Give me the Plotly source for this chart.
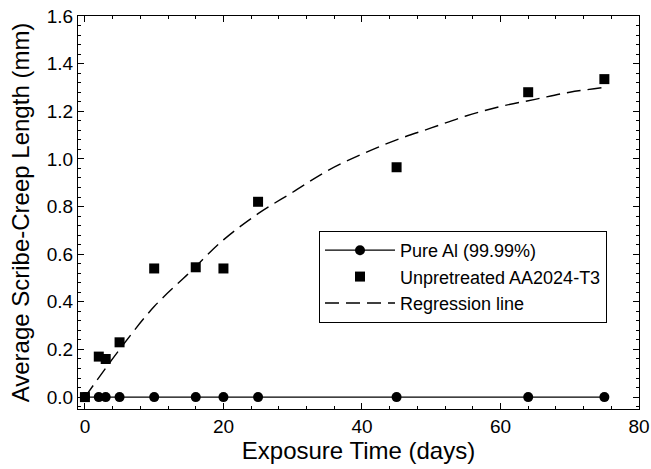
import plotly.graph_objects as go

# Data
pure_x = [0, 2, 3, 5, 10, 16, 20, 25, 45, 64, 75]
pure_y = [0, 0, 0, 0, 0, 0, 0, 0, 0, 0, 0]

aa_x = [0, 2, 3, 5, 10, 16, 20, 25, 45, 64, 75]
aa_y = [0.0, 0.17, 0.16, 0.23, 0.54, 0.545, 0.54, 0.82, 0.965, 1.28, 1.335]

reg_x = [0, 5, 10, 15, 20, 25, 30, 35, 40, 45, 50, 55, 60, 65, 70, 75]
reg_y = [0.0, 0.20, 0.38, 0.52, 0.66, 0.77, 0.86, 0.95, 1.02, 1.08, 1.13, 1.18, 1.22, 1.25, 1.28, 1.30]

FONT = "Liberation Sans, Arial, Helvetica, sans-serif"

fig = go.Figure()
fig.add_trace(go.Scatter(x=pure_x, y=pure_y, mode="lines+markers", name="Pure Al (99.99%)",
                         line=dict(color="black", width=1.4),
                         marker=dict(symbol="circle", size=10, color="black")))
fig.add_trace(go.Scatter(x=aa_x, y=aa_y, mode="markers", name="Unpretreated AA2024-T3",
                         marker=dict(symbol="square", size=10, color="black")))
fig.add_trace(go.Scatter(x=reg_x, y=reg_y, mode="lines", name="Regression line",
                         line=dict(color="black", width=1.4, dash="14px,7px", shape="spline")))

axis_common = dict(showgrid=False, zeroline=False, showline=True, linecolor="black", linewidth=1,
                   mirror="allticks", ticks="inside", ticklen=6, tickcolor="black", tickwidth=1,
                   automargin=False,
                   tickfont=dict(size=19, color="black", family=FONT))

fig.update_xaxes(range=[-1, 80], tick0=0, dtick=20,
                 minor=dict(ticks="inside", ticklen=3, dtick=4, tick0=0, tickcolor="black"),
                 title=dict(text="Exposure Time (days)", font=dict(size=24, color="black", family=FONT), standoff=4),
                 **axis_common)
fig.update_yaxes(range=[-0.05, 1.6], tick0=0, dtick=0.2, tickformat=".1f",
                 minor=dict(ticks="inside", ticklen=3, dtick=0.04, tick0=0, tickcolor="black"),
                 title=dict(text="Average Scribe-Creep Length (mm)", font=dict(size=24, color="black", family=FONT), standoff=10),
                 **axis_common)

fig.update_layout(
    width=651, height=469,
    margin=dict(l=78, r=12, t=16, b=60, autoexpand=False),
    paper_bgcolor="white", plot_bgcolor="white",
    font=dict(family=FONT, color="black"),
    showlegend=True,
    legend=dict(x=0.4296, y=0.453, xanchor="left", yanchor="top",
                bgcolor="white", bordercolor="black", borderwidth=1,
                font=dict(size=18, color="black", family=FONT),
                itemwidth=70, tracegroupgap=0),
)

fig.write_html("out.html")
